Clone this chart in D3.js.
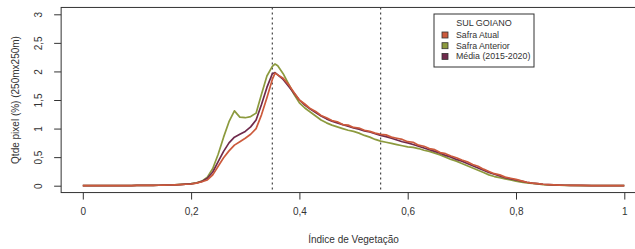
<!DOCTYPE html>
<html>
<head>
<meta charset="utf-8">
<script src="https://cdn.jsdelivr.net/npm/d3@7"></script>
<style>
  body { margin: 0; background: #fff; }
  text { font-family: "Liberation Sans", Arial, sans-serif; fill: #333; }
</style>
</head>
<body>
<div id="chart"></div>
<script>
// indice de vegetacao (x)
var xVals = [0,0.01,0.02,0.03,0.04,0.05,0.06,0.07,0.08,0.09,
  0.1,0.11,0.12,0.13,0.14,0.15,0.16,0.17,0.18,0.19,
  0.2,0.21,0.22,0.23,0.24,0.25,0.26,0.27,0.28,0.29,
  0.3,0.31,0.32,0.33,0.34,0.35,0.355,0.36,0.37,0.38,0.39,
  0.4,0.41,0.42,0.43,0.44,0.45,0.46,0.47,0.48,0.49,
  0.5,0.51,0.52,0.53,0.54,0.55,0.56,0.57,0.58,0.59,
  0.6,0.61,0.62,0.63,0.64,0.65,0.66,0.67,0.68,0.69,
  0.7,0.71,0.72,0.73,0.74,0.75,0.76,0.77,0.78,0.79,
  0.8,0.81,0.82,0.83,0.84,0.85,0.86,0.87,0.88,0.89,
  0.9,0.92,0.94,0.96,0.98,1];

var safraAtual = [0,0,0,0,0,0,0,0,0.002,0.003,
  0.004,0.005,0.006,0.007,0.008,0.01,0.012,0.015,0.02,0.025,
  0.03,0.045,0.07,0.1,0.19,0.34,0.49,0.61,0.71,0.77,
  0.83,0.9,1.0,1.24,1.54,1.86,1.97,1.94,1.88,1.77,1.63,
  1.5,1.43,1.35,1.3,1.23,1.19,1.14,1.12,1.07,1.06,
  1.02,1.01,0.97,0.95,0.92,0.9,0.89,0.85,0.83,0.81,
  0.77,0.76,0.71,0.69,0.65,0.63,0.58,0.56,0.52,0.49,
  0.45,0.42,0.37,0.34,0.29,0.25,0.21,0.19,0.15,0.13,
  0.11,0.085,0.06,0.045,0.035,0.025,0.018,0.013,0.01,0.008,
  0.006,0.004,0.003,0.002,0.001,0];

var safraAnterior = [0,0,0,0,0,0,0,0,0.002,0.003,
  0.004,0.005,0.006,0.007,0.008,0.01,0.012,0.016,0.022,0.028,
  0.035,0.05,0.08,0.15,0.3,0.55,0.85,1.12,1.31,1.2,
  1.19,1.21,1.27,1.6,1.92,2.09,2.13,2.1,1.96,1.78,1.6,
  1.45,1.36,1.29,1.22,1.15,1.1,1.06,1.03,1.0,0.97,
  0.95,0.92,0.88,0.85,0.81,0.78,0.76,0.74,0.72,0.7,
  0.68,0.67,0.65,0.62,0.6,0.57,0.54,0.5,0.46,0.43,
  0.39,0.35,0.31,0.27,0.23,0.19,0.16,0.14,0.12,0.1,
  0.08,0.06,0.05,0.04,0.03,0.02,0.015,0.011,0.008,0.006,
  0.005,0.003,0.002,0.001,0.001,0];

var mediaPeriodo = [0,0,0,0,0,0,0,0,0.002,0.003,
  0.004,0.005,0.006,0.007,0.008,0.01,0.012,0.015,0.02,0.026,
  0.032,0.047,0.075,0.13,0.24,0.42,0.6,0.75,0.85,0.9,
  0.95,1.03,1.15,1.42,1.72,1.96,1.98,1.94,1.86,1.74,1.62,
  1.5,1.41,1.34,1.28,1.22,1.17,1.13,1.1,1.07,1.04,
  1.01,0.99,0.96,0.94,0.91,0.88,0.86,0.83,0.8,0.77,
  0.75,0.72,0.69,0.66,0.63,0.6,0.57,0.53,0.5,0.46,
  0.43,0.39,0.35,0.31,0.27,0.23,0.2,0.17,0.14,0.12,
  0.1,0.08,0.06,0.045,0.035,0.025,0.018,0.013,0.01,0.008,
  0.006,0.004,0.003,0.002,0.001,0];

var seriesNames = ["Safra Atual", "Safra Anterior", "Média (2015-2020)"];
var seriesColors = ["#cc5a3c", "#8c9a3e", "#6f2a4c"];
var xTicks = [0, 0.2, 0.4, 0.6, 0.8, 1];
var yTicks = [0, 0.5, 1, 1.5, 2, 2.5, 3];
var refLines = [0.35, 0.55];

var svgWidth = 635, svgHeight = 249;

var svg = d3.select("#chart").append("svg")
  .attr("width", svgWidth)
  .attr("height", svgHeight);

// scales (R style: axis range padded 4% each side)
var x = d3.scaleLinear().domain([0, 1]).range([82.8, 624.3]);
var y = d3.scaleLinear().domain([0, 3]).range([185.7, 14.3]);

var boxL = x(-0.04), boxR = x(1.04), boxT = y(3.12), boxB = y(-0.12);

var fmt = function(d) { return String(d).replace(".", ","); };

// plot box
svg.append("rect")
  .attr("x", boxL).attr("y", boxT)
  .attr("width", boxR - boxL).attr("height", boxB - boxT)
  .attr("fill", "none").attr("stroke", "#333").attr("stroke-width", 1);

// x axis
var xAxis = svg.append("g")
  .attr("transform", `translate(0, ${boxB})`)
  .call(d3.axisBottom(x).tickValues(xTicks).tickSize(7).tickPadding(8).tickFormat(fmt));
xAxis.select(".domain").remove();
xAxis.selectAll("line").attr("stroke", "#333");
xAxis.selectAll("text").attr("font-size", "10px").attr("font-family", "Liberation Sans, Arial, sans-serif").attr("fill", "#333");

// y axis
var yAxis = svg.append("g")
  .attr("transform", `translate(${boxL}, 0)`)
  .call(d3.axisLeft(y).tickValues(yTicks).tickSize(7).tickFormat(fmt));
yAxis.select(".domain").remove();
yAxis.selectAll("line").attr("stroke", "#333");
yAxis.selectAll("text")
  .attr("font-size", "10px")
  .attr("font-family", "Liberation Sans, Arial, sans-serif")
  .attr("fill", "#333")
  .attr("x", 0).attr("dy", null)
  .attr("text-anchor", "middle")
  .attr("transform", "translate(-19, 0) rotate(-90)");

// axis titles
svg.append("text")
  .attr("x", (x(0) + x(1)) / 2).attr("y", 243)
  .attr("text-anchor", "middle").attr("font-size", "10px")
  .text("Índice de Vegetação");

svg.append("text")
  .attr("transform", `translate(19, ${(y(0) + y(3)) / 2}) rotate(-90)`)
  .attr("text-anchor", "middle").attr("font-size", "10px")
  .text("Qtde pixel (%) (250mx250m)");

// reference lines
svg.selectAll(".ref").data(refLines).enter().append("line")
  .attr("x1", d => x(d)).attr("x2", d => x(d))
  .attr("y1", boxT).attr("y2", boxB)
  .attr("stroke", "#444").attr("stroke-width", 1.2)
  .attr("stroke-dasharray", "2,3");

// curves
var allSeries = [safraAtual, safraAnterior, mediaPeriodo];
var line = d3.line()
  .x((d, i) => x(xVals[i]))
  .y(d => y(d));

[1, 2, 0].forEach(function(k) {
  svg.append("path")
    .datum(allSeries[k])
    .attr("d", line)
    .attr("fill", "none")
    .attr("stroke", seriesColors[k])
    .attr("stroke-width", 1.7)
    .attr("stroke-linejoin", "round");
});

// legend
var legend = svg.append("g");
legend.append("rect")
  .attr("x", 434).attr("y", 14).attr("width", 100).attr("height", 53)
  .attr("fill", "#fff").attr("stroke", "#333").attr("stroke-width", 1);
legend.append("text")
  .attr("x", 484).attr("y", 26).attr("text-anchor", "middle")
  .attr("font-size", "9px").text("SUL GOIANO");
seriesNames.forEach(function(name, i) {
  var cy = 35 + i * 10.7;
  legend.append("rect")
    .attr("x", 442).attr("y", cy - 3).attr("width", 6).attr("height", 6)
    .attr("fill", seriesColors[i]).attr("stroke", "#333").attr("stroke-width", 0.8);
  legend.append("text")
    .attr("x", 456).attr("y", cy + 3)
    .attr("font-size", "8.8px").text(name);
});
</script>
</body>
</html>
